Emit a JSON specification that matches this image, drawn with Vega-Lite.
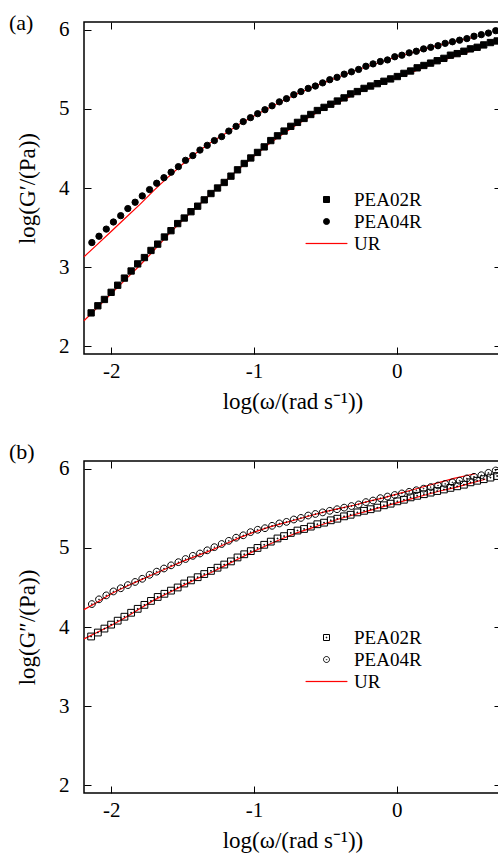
{
  "$schema": "https://vega.github.io/schema/vega-lite/v6.json",
  "padding": {"left": 8, "top": 11, "right": 0, "bottom": 0},
  "spacing": 107,
  "bounds": "flush",
  "resolve": {"scale": {"shape": "independent", "stroke": "independent", "fill": "independent"}, "legend": {"shape": "independent", "stroke": "independent", "fill": "independent"}},
  "config": {
    "font": "Liberation Serif",
    "view": {"stroke": "black", "strokeWidth": 1.5},
    "style": {"guide-label": {"font": "Liberation Serif", "fill": "black"}, "guide-title": {"font": "Liberation Serif", "fill": "black", "fontWeight": "normal"}},
    "axis": {"grid": false, "domain": false, "labelFont": "Liberation Serif", "titleFont": "Liberation Serif", "labelFontSize": 21, "titleFontSize": 23, "labelColor": "black", "titleColor": "black", "titleFontWeight": "normal", "tickColor": "black", "tickWidth": 1, "tickSize": -7},
    "legend": {"labelFont": "Liberation Serif", "labelFontSize": 19, "labelColor": "black", "symbolSize": 36, "symbolStrokeWidth": 1}
  },
  "datasets": {
    "ptsA": [
      {"series":"PEA02R","x":-2.140,"y":2.42},{"series":"PEA02R","x":-2.093,"y":2.51},{"series":"PEA02R","x":-2.047,"y":2.59},{"series":"PEA02R","x":-2.000,"y":2.68},{"series":"PEA02R","x":-1.954,"y":2.77},{"series":"PEA02R","x":-1.907,"y":2.86},{"series":"PEA02R","x":-1.860,"y":2.95},{"series":"PEA02R","x":-1.814,"y":3.04},{"series":"PEA02R","x":-1.767,"y":3.12},{"series":"PEA02R","x":-1.721,"y":3.21},{"series":"PEA02R","x":-1.674,"y":3.29},{"series":"PEA02R","x":-1.627,"y":3.38},{"series":"PEA02R","x":-1.581,"y":3.46},{"series":"PEA02R","x":-1.534,"y":3.55},{"series":"PEA02R","x":-1.488,"y":3.62},{"series":"PEA02R","x":-1.441,"y":3.70},{"series":"PEA02R","x":-1.394,"y":3.77},{"series":"PEA02R","x":-1.348,"y":3.85},{"series":"PEA02R","x":-1.301,"y":3.93},{"series":"PEA02R","x":-1.255,"y":4.00},{"series":"PEA02R","x":-1.208,"y":4.07},{"series":"PEA02R","x":-1.161,"y":4.15},{"series":"PEA02R","x":-1.115,"y":4.23},{"series":"PEA02R","x":-1.068,"y":4.31},{"series":"PEA02R","x":-1.022,"y":4.38},{"series":"PEA02R","x":-0.975,"y":4.45},{"series":"PEA02R","x":-0.928,"y":4.52},{"series":"PEA02R","x":-0.882,"y":4.60},{"series":"PEA02R","x":-0.835,"y":4.66},{"series":"PEA02R","x":-0.789,"y":4.72},{"series":"PEA02R","x":-0.742,"y":4.78},{"series":"PEA02R","x":-0.695,"y":4.83},{"series":"PEA02R","x":-0.649,"y":4.88},{"series":"PEA02R","x":-0.602,"y":4.93},{"series":"PEA02R","x":-0.556,"y":4.98},{"series":"PEA02R","x":-0.509,"y":5.02},{"series":"PEA02R","x":-0.462,"y":5.06},{"series":"PEA02R","x":-0.416,"y":5.10},{"series":"PEA02R","x":-0.369,"y":5.14},{"series":"PEA02R","x":-0.323,"y":5.19},{"series":"PEA02R","x":-0.276,"y":5.22},{"series":"PEA02R","x":-0.229,"y":5.26},{"series":"PEA02R","x":-0.183,"y":5.29},{"series":"PEA02R","x":-0.136,"y":5.32},{"series":"PEA02R","x":-0.090,"y":5.35},{"series":"PEA02R","x":-0.043,"y":5.38},{"series":"PEA02R","x":0.004,"y":5.41},{"series":"PEA02R","x":0.050,"y":5.45},{"series":"PEA02R","x":0.097,"y":5.48},{"series":"PEA02R","x":0.143,"y":5.52},{"series":"PEA02R","x":0.190,"y":5.55},{"series":"PEA02R","x":0.237,"y":5.58},{"series":"PEA02R","x":0.283,"y":5.61},{"series":"PEA02R","x":0.330,"y":5.64},{"series":"PEA02R","x":0.376,"y":5.68},{"series":"PEA02R","x":0.423,"y":5.70},{"series":"PEA02R","x":0.470,"y":5.73},{"series":"PEA02R","x":0.516,"y":5.76},{"series":"PEA02R","x":0.563,"y":5.78},{"series":"PEA02R","x":0.609,"y":5.81},{"series":"PEA02R","x":0.656,"y":5.84},{"series":"PEA02R","x":0.703,"y":5.86},
      {"series":"PEA04R","x":-2.135,"y":3.31},{"series":"PEA04R","x":-2.085,"y":3.39},{"series":"PEA04R","x":-2.034,"y":3.48},{"series":"PEA04R","x":-1.984,"y":3.57},{"series":"PEA04R","x":-1.933,"y":3.65},{"series":"PEA04R","x":-1.883,"y":3.74},{"series":"PEA04R","x":-1.832,"y":3.82},{"series":"PEA04R","x":-1.782,"y":3.90},{"series":"PEA04R","x":-1.731,"y":3.98},{"series":"PEA04R","x":-1.681,"y":4.06},{"series":"PEA04R","x":-1.630,"y":4.13},{"series":"PEA04R","x":-1.580,"y":4.20},{"series":"PEA04R","x":-1.529,"y":4.27},{"series":"PEA04R","x":-1.479,"y":4.35},{"series":"PEA04R","x":-1.428,"y":4.41},{"series":"PEA04R","x":-1.378,"y":4.48},{"series":"PEA04R","x":-1.327,"y":4.54},{"series":"PEA04R","x":-1.277,"y":4.60},{"series":"PEA04R","x":-1.226,"y":4.65},{"series":"PEA04R","x":-1.176,"y":4.72},{"series":"PEA04R","x":-1.125,"y":4.78},{"series":"PEA04R","x":-1.075,"y":4.84},{"series":"PEA04R","x":-1.024,"y":4.89},{"series":"PEA04R","x":-0.974,"y":4.94},{"series":"PEA04R","x":-0.923,"y":4.99},{"series":"PEA04R","x":-0.873,"y":5.04},{"series":"PEA04R","x":-0.822,"y":5.09},{"series":"PEA04R","x":-0.772,"y":5.13},{"series":"PEA04R","x":-0.721,"y":5.18},{"series":"PEA04R","x":-0.671,"y":5.22},{"series":"PEA04R","x":-0.620,"y":5.26},{"series":"PEA04R","x":-0.570,"y":5.29},{"series":"PEA04R","x":-0.519,"y":5.33},{"series":"PEA04R","x":-0.469,"y":5.37},{"series":"PEA04R","x":-0.418,"y":5.40},{"series":"PEA04R","x":-0.368,"y":5.44},{"series":"PEA04R","x":-0.317,"y":5.47},{"series":"PEA04R","x":-0.267,"y":5.50},{"series":"PEA04R","x":-0.216,"y":5.54},{"series":"PEA04R","x":-0.166,"y":5.57},{"series":"PEA04R","x":-0.115,"y":5.60},{"series":"PEA04R","x":-0.065,"y":5.62},{"series":"PEA04R","x":-0.014,"y":5.66},{"series":"PEA04R","x":0.036,"y":5.68},{"series":"PEA04R","x":0.087,"y":5.71},{"series":"PEA04R","x":0.137,"y":5.73},{"series":"PEA04R","x":0.188,"y":5.76},{"series":"PEA04R","x":0.238,"y":5.78},{"series":"PEA04R","x":0.289,"y":5.80},{"series":"PEA04R","x":0.339,"y":5.83},{"series":"PEA04R","x":0.390,"y":5.85},{"series":"PEA04R","x":0.440,"y":5.87},{"series":"PEA04R","x":0.491,"y":5.89},{"series":"PEA04R","x":0.541,"y":5.92},{"series":"PEA04R","x":0.592,"y":5.94},{"series":"PEA04R","x":0.642,"y":5.96},{"series":"PEA04R","x":0.693,"y":5.99}
    ],
    "fitA": [
      {"series":"UR","sample":"PEA04R","x":-2.19,"y":3.13},{"series":"UR","sample":"PEA04R","x":-2.1,"y":3.28},{"series":"UR","sample":"PEA04R","x":-2.0,"y":3.45},{"series":"UR","sample":"PEA04R","x":-1.9,"y":3.62},{"series":"UR","sample":"PEA04R","x":-1.8,"y":3.79},{"series":"UR","sample":"PEA04R","x":-1.7,"y":3.97},{"series":"UR","sample":"PEA04R","x":-1.6,"y":4.14},{"series":"UR","sample":"PEA04R","x":-1.5,"y":4.30},{"series":"UR","sample":"PEA04R","x":-1.4,"y":4.45},{"series":"UR","sample":"PEA04R","x":-1.3,"y":4.58},{"series":"UR","sample":"PEA04R","x":-1.2,"y":4.69},{"series":"UR","sample":"PEA04R","x":-1.1,"y":4.81},{"series":"UR","sample":"PEA04R","x":-1.0,"y":4.91},{"series":"UR","sample":"PEA04R","x":-0.9,"y":5.01},{"series":"UR","sample":"PEA04R","x":-0.8,"y":5.10},{"series":"UR","sample":"PEA04R","x":-0.7,"y":5.19},{"series":"UR","sample":"PEA04R","x":-0.6,"y":5.27},{"series":"UR","sample":"PEA04R","x":-0.5,"y":5.34},{"series":"UR","sample":"PEA04R","x":-0.4,"y":5.41},{"series":"UR","sample":"PEA04R","x":-0.3,"y":5.48},{"series":"UR","sample":"PEA04R","x":-0.2,"y":5.54},{"series":"UR","sample":"PEA04R","x":-0.1,"y":5.60},{"series":"UR","sample":"PEA04R","x":0.0,"y":5.66},{"series":"UR","sample":"PEA04R","x":0.1,"y":5.71},{"series":"UR","sample":"PEA04R","x":0.2,"y":5.76},{"series":"UR","sample":"PEA04R","x":0.3,"y":5.81},{"series":"UR","sample":"PEA04R","x":0.4,"y":5.85},{"series":"UR","sample":"PEA04R","x":0.5,"y":5.89},{"series":"UR","sample":"PEA04R","x":0.56,"y":5.92},
      {"series":"UR","sample":"PEA02R","x":-2.19,"y":2.32},{"series":"UR","sample":"PEA02R","x":-2.1,"y":2.48},{"series":"UR","sample":"PEA02R","x":-2.0,"y":2.66},{"series":"UR","sample":"PEA02R","x":-1.9,"y":2.84},{"series":"UR","sample":"PEA02R","x":-1.8,"y":3.02},{"series":"UR","sample":"PEA02R","x":-1.7,"y":3.21},{"series":"UR","sample":"PEA02R","x":-1.6,"y":3.41},{"series":"UR","sample":"PEA02R","x":-1.5,"y":3.59},{"series":"UR","sample":"PEA02R","x":-1.4,"y":3.76},{"series":"UR","sample":"PEA02R","x":-1.3,"y":3.93},{"series":"UR","sample":"PEA02R","x":-1.2,"y":4.09},{"series":"UR","sample":"PEA02R","x":-1.1,"y":4.25},{"series":"UR","sample":"PEA02R","x":-1.0,"y":4.40},{"series":"UR","sample":"PEA02R","x":-0.9,"y":4.55},{"series":"UR","sample":"PEA02R","x":-0.8,"y":4.68},{"series":"UR","sample":"PEA02R","x":-0.7,"y":4.80},{"series":"UR","sample":"PEA02R","x":-0.6,"y":4.91},{"series":"UR","sample":"PEA02R","x":-0.5,"y":5.01},{"series":"UR","sample":"PEA02R","x":-0.4,"y":5.09},{"series":"UR","sample":"PEA02R","x":-0.3,"y":5.18},{"series":"UR","sample":"PEA02R","x":-0.2,"y":5.26},{"series":"UR","sample":"PEA02R","x":-0.1,"y":5.33},{"series":"UR","sample":"PEA02R","x":0.0,"y":5.40},{"series":"UR","sample":"PEA02R","x":0.1,"y":5.46},{"series":"UR","sample":"PEA02R","x":0.2,"y":5.53},{"series":"UR","sample":"PEA02R","x":0.3,"y":5.60},{"series":"UR","sample":"PEA02R","x":0.4,"y":5.66},{"series":"UR","sample":"PEA02R","x":0.5,"y":5.72},{"series":"UR","sample":"PEA02R","x":0.6,"y":5.78},{"series":"UR","sample":"PEA02R","x":0.62,"y":5.79}
    ],
    "ptsB": [
      {"series":"PEA02R","x":-2.140,"y":3.88},{"series":"PEA02R","x":-2.093,"y":3.93},{"series":"PEA02R","x":-2.047,"y":3.98},{"series":"PEA02R","x":-2.000,"y":4.03},{"series":"PEA02R","x":-1.954,"y":4.08},{"series":"PEA02R","x":-1.907,"y":4.13},{"series":"PEA02R","x":-1.860,"y":4.18},{"series":"PEA02R","x":-1.814,"y":4.23},{"series":"PEA02R","x":-1.767,"y":4.28},{"series":"PEA02R","x":-1.721,"y":4.33},{"series":"PEA02R","x":-1.674,"y":4.38},{"series":"PEA02R","x":-1.627,"y":4.42},{"series":"PEA02R","x":-1.581,"y":4.46},{"series":"PEA02R","x":-1.534,"y":4.50},{"series":"PEA02R","x":-1.488,"y":4.55},{"series":"PEA02R","x":-1.441,"y":4.59},{"series":"PEA02R","x":-1.394,"y":4.63},{"series":"PEA02R","x":-1.348,"y":4.67},{"series":"PEA02R","x":-1.301,"y":4.71},{"series":"PEA02R","x":-1.255,"y":4.75},{"series":"PEA02R","x":-1.208,"y":4.79},{"series":"PEA02R","x":-1.161,"y":4.83},{"series":"PEA02R","x":-1.115,"y":4.88},{"series":"PEA02R","x":-1.068,"y":4.92},{"series":"PEA02R","x":-1.022,"y":4.96},{"series":"PEA02R","x":-0.975,"y":5.00},{"series":"PEA02R","x":-0.928,"y":5.04},{"series":"PEA02R","x":-0.882,"y":5.08},{"series":"PEA02R","x":-0.835,"y":5.12},{"series":"PEA02R","x":-0.789,"y":5.15},{"series":"PEA02R","x":-0.742,"y":5.19},{"series":"PEA02R","x":-0.695,"y":5.22},{"series":"PEA02R","x":-0.649,"y":5.24},{"series":"PEA02R","x":-0.602,"y":5.27},{"series":"PEA02R","x":-0.556,"y":5.30},{"series":"PEA02R","x":-0.509,"y":5.32},{"series":"PEA02R","x":-0.462,"y":5.35},{"series":"PEA02R","x":-0.416,"y":5.37},{"series":"PEA02R","x":-0.369,"y":5.40},{"series":"PEA02R","x":-0.323,"y":5.42},{"series":"PEA02R","x":-0.276,"y":5.45},{"series":"PEA02R","x":-0.229,"y":5.47},{"series":"PEA02R","x":-0.183,"y":5.49},{"series":"PEA02R","x":-0.136,"y":5.51},{"series":"PEA02R","x":-0.090,"y":5.54},{"series":"PEA02R","x":-0.043,"y":5.56},{"series":"PEA02R","x":0.004,"y":5.59},{"series":"PEA02R","x":0.050,"y":5.61},{"series":"PEA02R","x":0.097,"y":5.64},{"series":"PEA02R","x":0.143,"y":5.66},{"series":"PEA02R","x":0.190,"y":5.68},{"series":"PEA02R","x":0.237,"y":5.70},{"series":"PEA02R","x":0.283,"y":5.72},{"series":"PEA02R","x":0.330,"y":5.74},{"series":"PEA02R","x":0.376,"y":5.76},{"series":"PEA02R","x":0.423,"y":5.78},{"series":"PEA02R","x":0.470,"y":5.80},{"series":"PEA02R","x":0.516,"y":5.83},{"series":"PEA02R","x":0.563,"y":5.85},{"series":"PEA02R","x":0.609,"y":5.87},{"series":"PEA02R","x":0.656,"y":5.89},{"series":"PEA02R","x":0.703,"y":5.91},
      {"series":"PEA04R","x":-2.135,"y":4.29},{"series":"PEA04R","x":-2.085,"y":4.35},{"series":"PEA04R","x":-2.034,"y":4.40},{"series":"PEA04R","x":-1.984,"y":4.45},{"series":"PEA04R","x":-1.933,"y":4.49},{"series":"PEA04R","x":-1.883,"y":4.53},{"series":"PEA04R","x":-1.832,"y":4.57},{"series":"PEA04R","x":-1.782,"y":4.61},{"series":"PEA04R","x":-1.731,"y":4.66},{"series":"PEA04R","x":-1.681,"y":4.70},{"series":"PEA04R","x":-1.630,"y":4.74},{"series":"PEA04R","x":-1.580,"y":4.78},{"series":"PEA04R","x":-1.529,"y":4.82},{"series":"PEA04R","x":-1.479,"y":4.86},{"series":"PEA04R","x":-1.428,"y":4.90},{"series":"PEA04R","x":-1.378,"y":4.93},{"series":"PEA04R","x":-1.327,"y":4.97},{"series":"PEA04R","x":-1.277,"y":5.01},{"series":"PEA04R","x":-1.226,"y":5.05},{"series":"PEA04R","x":-1.176,"y":5.09},{"series":"PEA04R","x":-1.125,"y":5.13},{"series":"PEA04R","x":-1.075,"y":5.16},{"series":"PEA04R","x":-1.024,"y":5.20},{"series":"PEA04R","x":-0.974,"y":5.23},{"series":"PEA04R","x":-0.923,"y":5.25},{"series":"PEA04R","x":-0.873,"y":5.28},{"series":"PEA04R","x":-0.822,"y":5.31},{"series":"PEA04R","x":-0.772,"y":5.33},{"series":"PEA04R","x":-0.721,"y":5.36},{"series":"PEA04R","x":-0.671,"y":5.38},{"series":"PEA04R","x":-0.620,"y":5.41},{"series":"PEA04R","x":-0.570,"y":5.43},{"series":"PEA04R","x":-0.519,"y":5.45},{"series":"PEA04R","x":-0.469,"y":5.47},{"series":"PEA04R","x":-0.418,"y":5.49},{"series":"PEA04R","x":-0.368,"y":5.51},{"series":"PEA04R","x":-0.317,"y":5.53},{"series":"PEA04R","x":-0.267,"y":5.55},{"series":"PEA04R","x":-0.216,"y":5.58},{"series":"PEA04R","x":-0.166,"y":5.60},{"series":"PEA04R","x":-0.115,"y":5.63},{"series":"PEA04R","x":-0.065,"y":5.65},{"series":"PEA04R","x":-0.014,"y":5.67},{"series":"PEA04R","x":0.036,"y":5.69},{"series":"PEA04R","x":0.087,"y":5.71},{"series":"PEA04R","x":0.137,"y":5.73},{"series":"PEA04R","x":0.188,"y":5.75},{"series":"PEA04R","x":0.238,"y":5.77},{"series":"PEA04R","x":0.289,"y":5.79},{"series":"PEA04R","x":0.339,"y":5.81},{"series":"PEA04R","x":0.390,"y":5.83},{"series":"PEA04R","x":0.440,"y":5.85},{"series":"PEA04R","x":0.491,"y":5.88},{"series":"PEA04R","x":0.541,"y":5.90},{"series":"PEA04R","x":0.592,"y":5.92},{"series":"PEA04R","x":0.642,"y":5.95},{"series":"PEA04R","x":0.693,"y":5.98}
    ],
    "fitB": [
      {"series":"UR","sample":"PEA04R","x":-2.19,"y":4.22},{"series":"UR","sample":"PEA04R","x":-2.1,"y":4.31},{"series":"UR","sample":"PEA04R","x":-2.0,"y":4.42},{"series":"UR","sample":"PEA04R","x":-1.9,"y":4.51},{"series":"UR","sample":"PEA04R","x":-1.8,"y":4.59},{"series":"UR","sample":"PEA04R","x":-1.7,"y":4.67},{"series":"UR","sample":"PEA04R","x":-1.6,"y":4.75},{"series":"UR","sample":"PEA04R","x":-1.5,"y":4.83},{"series":"UR","sample":"PEA04R","x":-1.4,"y":4.90},{"series":"UR","sample":"PEA04R","x":-1.3,"y":4.97},{"series":"UR","sample":"PEA04R","x":-1.2,"y":5.05},{"series":"UR","sample":"PEA04R","x":-1.1,"y":5.13},{"series":"UR","sample":"PEA04R","x":-1.0,"y":5.20},{"series":"UR","sample":"PEA04R","x":-0.9,"y":5.26},{"series":"UR","sample":"PEA04R","x":-0.8,"y":5.31},{"series":"UR","sample":"PEA04R","x":-0.7,"y":5.36},{"series":"UR","sample":"PEA04R","x":-0.6,"y":5.41},{"series":"UR","sample":"PEA04R","x":-0.5,"y":5.46},{"series":"UR","sample":"PEA04R","x":-0.4,"y":5.50},{"series":"UR","sample":"PEA04R","x":-0.3,"y":5.54},{"series":"UR","sample":"PEA04R","x":-0.2,"y":5.59},{"series":"UR","sample":"PEA04R","x":-0.1,"y":5.63},{"series":"UR","sample":"PEA04R","x":0.0,"y":5.68},{"series":"UR","sample":"PEA04R","x":0.1,"y":5.73},{"series":"UR","sample":"PEA04R","x":0.2,"y":5.78},{"series":"UR","sample":"PEA04R","x":0.3,"y":5.83},{"series":"UR","sample":"PEA04R","x":0.4,"y":5.88},{"series":"UR","sample":"PEA04R","x":0.5,"y":5.92},{"series":"UR","sample":"PEA04R","x":0.55,"y":5.94},
      {"series":"UR","sample":"PEA02R","x":-2.19,"y":3.85},{"series":"UR","sample":"PEA02R","x":-2.1,"y":3.93},{"series":"UR","sample":"PEA02R","x":-2.0,"y":4.02},{"series":"UR","sample":"PEA02R","x":-1.9,"y":4.12},{"series":"UR","sample":"PEA02R","x":-1.8,"y":4.23},{"series":"UR","sample":"PEA02R","x":-1.7,"y":4.34},{"series":"UR","sample":"PEA02R","x":-1.6,"y":4.43},{"series":"UR","sample":"PEA02R","x":-1.5,"y":4.52},{"series":"UR","sample":"PEA02R","x":-1.4,"y":4.61},{"series":"UR","sample":"PEA02R","x":-1.3,"y":4.69},{"series":"UR","sample":"PEA02R","x":-1.2,"y":4.78},{"series":"UR","sample":"PEA02R","x":-1.1,"y":4.87},{"series":"UR","sample":"PEA02R","x":-1.0,"y":4.96},{"series":"UR","sample":"PEA02R","x":-0.9,"y":5.04},{"series":"UR","sample":"PEA02R","x":-0.8,"y":5.12},{"series":"UR","sample":"PEA02R","x":-0.7,"y":5.19},{"series":"UR","sample":"PEA02R","x":-0.6,"y":5.25},{"series":"UR","sample":"PEA02R","x":-0.5,"y":5.31},{"series":"UR","sample":"PEA02R","x":-0.4,"y":5.37},{"series":"UR","sample":"PEA02R","x":-0.3,"y":5.42},{"series":"UR","sample":"PEA02R","x":-0.2,"y":5.47},{"series":"UR","sample":"PEA02R","x":-0.1,"y":5.52},{"series":"UR","sample":"PEA02R","x":0.0,"y":5.57},{"series":"UR","sample":"PEA02R","x":0.1,"y":5.62},{"series":"UR","sample":"PEA02R","x":0.2,"y":5.67},{"series":"UR","sample":"PEA02R","x":0.3,"y":5.72},{"series":"UR","sample":"PEA02R","x":0.4,"y":5.76},{"series":"UR","sample":"PEA02R","x":0.5,"y":5.81},{"series":"UR","sample":"PEA02R","x":0.6,"y":5.86},{"series":"UR","sample":"PEA02R","x":0.62,"y":5.87}
    ]
  },
  "vconcat": [
    {
      "width": 417,
      "height": 332,
      "title": {"text": "(a)", "anchor": "start", "frame": "group", "dx": -75, "offset": -26, "baseline": "middle", "fontSize": 22, "fontWeight": "normal", "font": "Liberation Serif", "color": "black"},
      "resolve": {"axis": {"x": "independent", "y": "independent"}},
      "layer": [
        {
          "data": {"name": "fitA"},
          "mark": {"type": "line", "strokeWidth": 1.2, "stroke": "#ff0000"},
          "encoding": {
            "x": {"field": "x", "type": "quantitative", "scale": {"domain": [-2.19, 0.73], "nice": false, "zero": false}, "axis": {"values": [-2, -1, 0], "labelExpr": "'' + datum.value", "labelPadding": 13, "labelFont": "Liberation Serif", "titleFont": "Liberation Serif", "title": "log(ω/(rad s⁻¹))", "titleY": 47, "titleBaseline": "middle"}},
            "y": {"field": "y", "type": "quantitative", "scale": {"domain": [1.9, 6.1], "nice": false, "zero": false}, "axis": {"values": [2, 3, 4, 5, 6], "labelPadding": 22, "labelFont": "Liberation Serif", "titleFont": "Liberation Serif", "title": "log(G′/(Pa))", "titleX": -57, "titleY": 166, "titleBaseline": "middle", "titleAngle": -90}},
            "detail": {"field": "sample", "type": "nominal"}
          }
        },
        {
          "data": {"name": "ptsA"},
          "transform": [{"filter": "datum.series == 'PEA02R'"}],
          "mark": {"type": "point", "filled": true, "size": 40, "strokeWidth": 1, "opacity": 1},
          "encoding": {
            "x": {"field": "x", "type": "quantitative", "axis": {"orient": "top", "values": [-2, -1, 0], "labels": false, "title": null}},
            "y": {"field": "y", "type": "quantitative", "axis": {"orient": "right", "values": [2, 3, 4, 5, 6], "labels": false, "title": null}},
            "shape": {"field": "series", "type": "nominal", "scale": {"domain": ["PEA02R", "PEA04R", "UR"], "range": ["square", "circle", "M-6.9,-0.04H6.9V0.04H-6.9Z"]}, "legend": {"title": null, "orient": "none", "legendX": 233, "legendY": 168, "labelOffset": 18, "rowPadding": 2, "labelFont": "Liberation Serif"}},
            "fill": {"field": "series", "type": "nominal", "scale": {"domain": ["PEA02R", "PEA04R", "UR"], "range": ["black", "black", "#ff0000"]}, "legend": {"title": null, "orient": "none", "legendX": 233, "legendY": 168, "labelOffset": 18, "rowPadding": 2, "labelFont": "Liberation Serif"}},
            "stroke": {"field": "series", "type": "nominal", "scale": {"domain": ["PEA02R", "PEA04R", "UR"], "range": ["black", "black", "#ff0000"]}, "legend": {"title": null, "orient": "none", "legendX": 233, "legendY": 168, "labelOffset": 18, "rowPadding": 2, "labelFont": "Liberation Serif"}}
          }
        },
        {
          "data": {"name": "ptsA"},
          "transform": [{"filter": "datum.series == 'PEA04R'"}],
          "mark": {"type": "point", "shape": "circle", "filled": true, "fill": "black", "stroke": "black", "size": 40, "strokeWidth": 1, "opacity": 1},
          "encoding": {
            "x": {"field": "x", "type": "quantitative", "axis": null},
            "y": {"field": "y", "type": "quantitative", "axis": null}
          }
        }
      ]
    },
    {
      "width": 417,
      "height": 332,
      "title": {"text": "(b)", "anchor": "start", "frame": "group", "dx": -75, "offset": -16, "baseline": "middle", "fontSize": 22, "fontWeight": "normal", "font": "Liberation Serif", "color": "black"},
      "resolve": {"axis": {"x": "independent", "y": "independent"}},
      "layer": [
        {
          "data": {"name": "fitB"},
          "mark": {"type": "line", "strokeWidth": 1.2, "stroke": "#ff0000"},
          "encoding": {
            "x": {"field": "x", "type": "quantitative", "scale": {"domain": [-2.19, 0.73], "nice": false, "zero": false}, "axis": {"values": [-2, -1, 0], "labelExpr": "'' + datum.value", "labelPadding": 13, "labelFont": "Liberation Serif", "titleFont": "Liberation Serif", "title": "log(ω/(rad s⁻¹))", "titleY": 47, "titleBaseline": "middle"}},
            "y": {"field": "y", "type": "quantitative", "scale": {"domain": [1.9, 6.1], "nice": false, "zero": false}, "axis": {"values": [2, 3, 4, 5, 6], "labelPadding": 22, "labelFont": "Liberation Serif", "titleFont": "Liberation Serif", "title": "log(G″/(Pa))", "titleX": -57, "titleY": 166, "titleBaseline": "middle", "titleAngle": -90}},
            "detail": {"field": "sample", "type": "nominal"}
          }
        },
        {
          "data": {"name": "ptsB"},
          "transform": [{"filter": "datum.series == 'PEA02R'"}],
          "mark": {"type": "point", "filled": true, "size": 46, "strokeWidth": 1, "opacity": 1},
          "encoding": {
            "x": {"field": "x", "type": "quantitative", "axis": {"orient": "top", "values": [-2, -1, 0], "labels": false, "title": null}},
            "y": {"field": "y", "type": "quantitative", "axis": {"orient": "right", "values": [2, 3, 4, 5, 6], "labels": false, "title": null}},
            "shape": {"field": "series", "type": "nominal", "scale": {"domain": ["PEA02R", "PEA04R", "UR"], "range": ["M-1,-1H1V1H-1Z M-0.12,-0.12H0.12V0.12H-0.12Z", "M1,0A1,1,0,1,1,-1,0A1,1,0,1,1,1,0Z M0.12,0A0.12,0.12,0,1,1,-0.12,0A0.12,0.12,0,1,1,0.12,0Z", "M-6.9,-0.04H6.9V0.04H-6.9Z"]}, "legend": {"title": null, "orient": "none", "legendX": 233, "legendY": 167, "labelOffset": 18, "rowPadding": 2, "labelFont": "Liberation Serif"}},
            "fill": {"field": "series", "type": "nominal", "scale": {"domain": ["PEA02R", "PEA04R", "UR"], "range": ["transparent", "transparent", "#ff0000"]}, "legend": {"title": null, "orient": "none", "legendX": 233, "legendY": 167, "labelOffset": 18, "rowPadding": 2, "labelFont": "Liberation Serif"}},
            "stroke": {"field": "series", "type": "nominal", "scale": {"domain": ["PEA02R", "PEA04R", "UR"], "range": ["black", "black", "#ff0000"]}, "legend": {"title": null, "orient": "none", "legendX": 233, "legendY": 167, "labelOffset": 18, "rowPadding": 2, "labelFont": "Liberation Serif"}}
          }
        },
        {
          "data": {"name": "ptsB"},
          "transform": [{"filter": "datum.series == 'PEA04R'"}],
          "mark": {"type": "point", "shape": "M1,0A1,1,0,1,1,-1,0A1,1,0,1,1,1,0Z M0.12,0A0.12,0.12,0,1,1,-0.12,0A0.12,0.12,0,1,1,0.12,0Z", "filled": false, "stroke": "black", "size": 46, "strokeWidth": 1, "opacity": 1},
          "encoding": {
            "x": {"field": "x", "type": "quantitative", "axis": null},
            "y": {"field": "y", "type": "quantitative", "axis": null}
          }
        }
      ]
    }
  ]
}
